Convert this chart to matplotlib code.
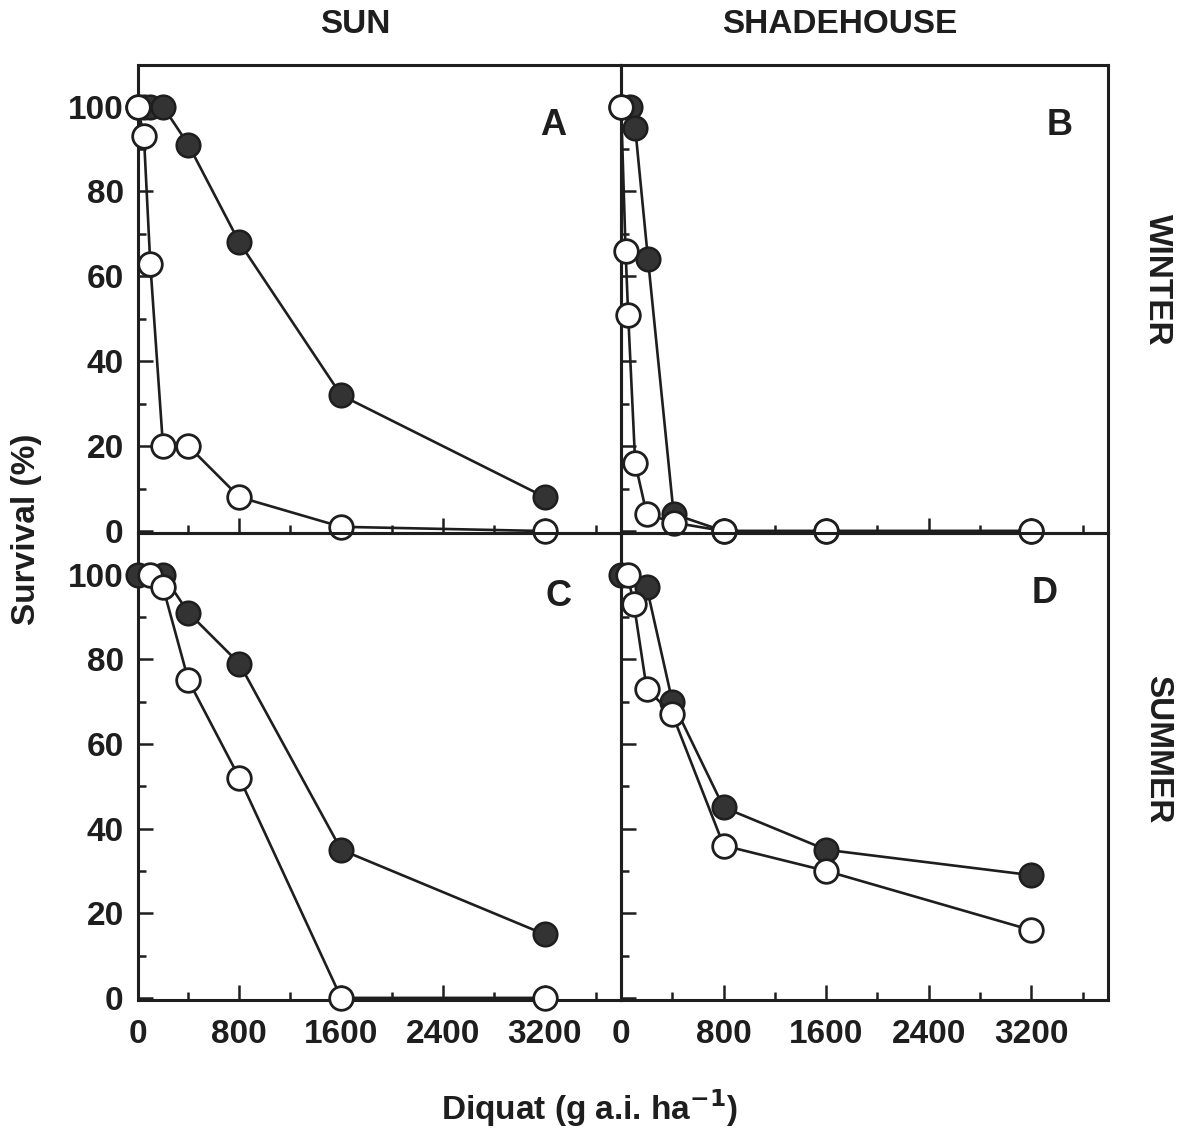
import matplotlib
matplotlib.use("Agg")
import matplotlib.pyplot as plt
from matplotlib.ticker import MultipleLocator

plt.rcParams['font.family'] = ['Liberation Sans', 'DejaVu Sans']
plt.rcParams['font.weight'] = 'bold'

# Panel A: winter, sun
a_filled_x = [0, 50, 100, 200, 400, 800, 1600, 3200]
a_filled_y = [100, 100, 100, 100, 91, 68, 32, 8]
a_open_x = [0, 50, 100, 200, 400, 800, 1600, 3200]
a_open_y = [100, 93, 63, 20, 20, 8, 1, 0]

# Panel B: winter, shadehouse
b_filled_x = [0, 70, 110, 210, 410, 800, 1600, 3200]
b_filled_y = [100, 100, 95, 64, 4, 0, 0, 0]
b_open_x = [0, 35, 55, 110, 200, 410, 800, 1600, 3200]
b_open_y = [100, 66, 51, 16, 4, 2, 0, 0, 0]

# Panel C: summer, sun
c_filled_x = [0, 200, 400, 800, 1600, 3200]
c_filled_y = [100, 100, 91, 79, 35, 15]
c_open_x = [100, 200, 400, 800, 1600, 3200]
c_open_y = [100, 97, 75, 52, 0, 0]

# Panel D: summer, shadehouse
d_filled_x = [0, 200, 400, 800, 1600, 3200]
d_filled_y = [100, 97, 70, 45, 35, 29]
d_open_x = [50, 100, 200, 400, 800, 1600, 3200]
d_open_y = [100, 93, 73, 67, 36, 30, 16]

panel_letters = ['A', 'B', 'C', 'D']
col_titles = ['SUN', 'SHADEHOUSE']
row_titles = ['WINTER', 'SUMMER']
x_ticks = [0, 800, 1600, 2400, 3200]
y_ticks = [0, 20, 40, 60, 80, 100]

panels = [
    (a_filled_x, a_filled_y, a_open_x, a_open_y),
    (b_filled_x, b_filled_y, b_open_x, b_open_y),
    (c_filled_x, c_filled_y, c_open_x, c_open_y),
    (d_filled_x, d_filled_y, d_open_x, d_open_y),
]

fig = plt.figure(figsize=(11.91, 11.32), dpi=100)
left, mid, right = 0.1155, 0.5215, 0.9305
bottom, hmid, top = 0.1166, 0.529, 0.9426

boxes = [
    (left, hmid, mid - left, top - hmid),
    (mid, hmid, right - mid, top - hmid),
    (left, bottom, mid - left, hmid - bottom),
    (mid, bottom, right - mid, hmid - bottom),
]

ink = '#1e1e1e'
fill = '#333333'
fs = 24

axes = []
for i, (box, (fx, fy, ox, oy)) in enumerate(zip(boxes, panels)):
    ax = fig.add_axes(box)
    axes.append(ax)
    ax.plot(fx, fy, '-o', color=ink, lw=1.9, ms=17, mfc=fill, mec=ink, mew=1.8,
            clip_on=False, zorder=3)
    ax.plot(ox, oy, '-o', color=ink, lw=1.9, ms=17, mfc='white', mec=ink, mew=2.0,
            clip_on=False, zorder=4)
    ax.set_xlim(0, 3800)
    ax.set_ylim(-0.5, 109.8)
    ax.set_xticks(x_ticks)
    ax.set_yticks(y_ticks)
    ax.xaxis.set_minor_locator(MultipleLocator(400))
    ax.yaxis.set_minor_locator(MultipleLocator(10))
    ax.tick_params(which='both', direction='in', color=ink, width=1.8,
                   labelsize=fs, top=False, right=False)
    ax.tick_params(which='major', length=11)
    ax.tick_params(which='minor', length=6)
    ax.tick_params(axis='x', pad=14)
    ax.tick_params(axis='y', pad=10)
    for sp in ax.spines.values():
        sp.set_linewidth(2.2)
        sp.set_color(ink)
    if i % 2 == 1:
        ax.tick_params(axis='y', labelleft=False)
    if i < 2:
        ax.tick_params(axis='x', labelbottom=False)
    for lab in ax.get_xticklabels() + ax.get_yticklabels():
        lab.set_fontweight('bold')
        lab.set_color(ink)
    ax.set_facecolor('none')

letter_pos = [(0.86, 0.87), (0.9, 0.87), (0.87, 0.865), (0.87, 0.87)]
for ax, letter, (lx, ly) in zip(axes, panel_letters, letter_pos):
    ax.text(lx, ly, letter, transform=ax.transAxes, fontsize=26, fontweight='bold',
            color=ink, ha='center', va='center')

fig.text(0.298, 0.978, col_titles[0], fontsize=fs, fontweight='bold', color=ink,
         ha='center', va='center')
fig.text(0.705, 0.978, col_titles[1], fontsize=fs, fontweight='bold', color=ink,
         ha='center', va='center')
fig.text(0.972, 0.753, row_titles[0], fontsize=fs, fontweight='bold', color=ink,
         ha='center', va='center', rotation=-90)
fig.text(0.972, 0.338, row_titles[1], fontsize=fs, fontweight='bold', color=ink,
         ha='center', va='center', rotation=-90)
fig.text(0.022, 0.532, 'Survival (%)', fontsize=fs, fontweight='bold', color=ink,
         ha='center', va='center', rotation=90)
fig.text(0.495, 0.021, r'Diquat (g a.i. ha$^{\mathbf{-1}}$)', fontsize=fs,
         fontweight='bold', color=ink, ha='center', va='center')

fig.savefig('out.png', dpi=100)
